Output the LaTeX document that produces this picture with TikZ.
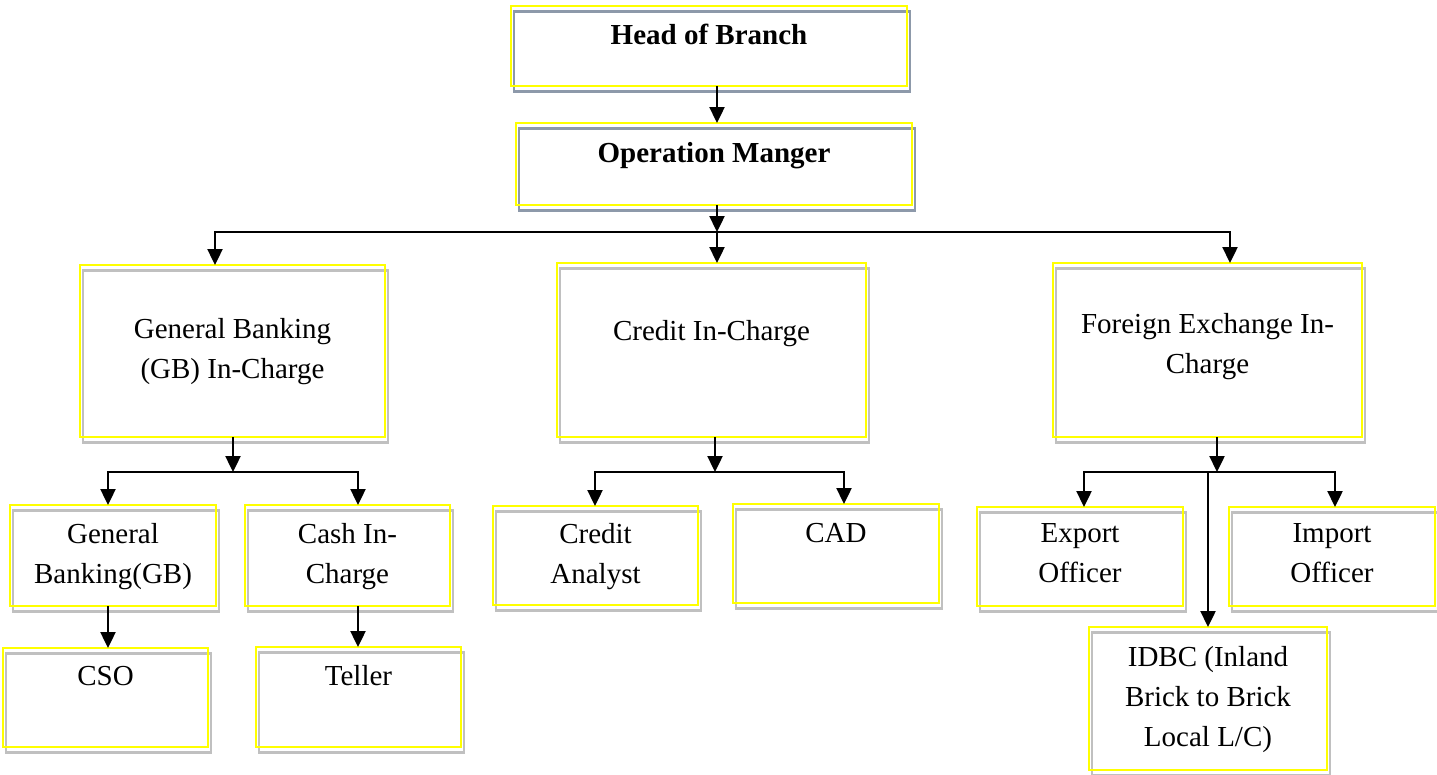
\documentclass[tikz,border=0pt]{standalone}
\usepackage{fontspec}
\setmainfont{Liberation Serif}
\usetikzlibrary{positioning,shadows,arrows.meta}
\definecolor{boxyellow}{RGB}{255,255,0}
\definecolor{slategrey}{RGB}{141,153,170}
\definecolor{shadegrey}{RGB}{192,192,192}

\begin{document}
\begin{tikzpicture}[x=1pt,y=-1pt,
	box/.style={rectangle,draw=boxyellow,line width=2.5pt,anchor=north west,inner sep=0pt,outer sep=0pt,
		drop shadow={shadow xshift=3pt,shadow yshift=-5.5pt,fill=none,draw=#1,opacity=1,line width=2.2pt}},
	box/.default=shadegrey,
	txt/.style={font=\fontsize{29}{40}\selectfont,align=center,inner sep=0pt},
	arr/.style={draw,line width=2.4pt,-{Triangle[length=16pt,width=15pt]}}
]
	\useasboundingbox (0,0) rectangle (1437,774);

	% top
	\node[box=slategrey,minimum width=396pt,minimum height=80pt] (head) at (511,6) {};
	\node[txt,below=18pt of head.north] (headtxt) {\bfseries Head of Branch};
	\node[box=slategrey,minimum width=396pt,minimum height=82pt] (opm) at (516,123) {};
	\node[txt,below=19pt of opm.north] (opmtxt) {\bfseries Operation Manger};

	% in-charges
	\node[box,minimum width=305pt,minimum height=172pt] (gbic) at (80,265) {};
	\node[txt,below=53pt of gbic.north] (gbictxt) {General Banking\\(GB) In-Charge};
	\node[box,minimum width=309pt,minimum height=174pt] (cric) at (557,263) {};
	\node[txt,below=57pt of cric.north] (crictxt) {Credit In-Charge};
	\node[box,minimum width=309pt,minimum height=174pt] (fxic) at (1053,263) {};
	\node[txt,below=50pt of fxic.north] (fxictxt) {Foreign Exchange In-\\Charge};

	% officers
	\node[box,minimum width=206pt,minimum height=101pt] (gbgb) at (10,505) {};
	\node[txt,below=18pt of gbgb.north] (gbgbtxt) {General\\Banking(GB)};
	\node[box,minimum width=205pt,minimum height=101pt] (cash) at (245,505) {};
	\node[txt,below=18pt of cash.north] (cashtxt) {Cash In-\\Charge};
	\node[box,minimum width=205pt,minimum height=99pt] (cso) at (3,648) {};
	\node[txt,below=18pt of cso.north] (csotxt) {CSO};
	\node[box,minimum width=205pt,minimum height=100pt] (teller) at (256,647) {};
	\node[txt,below=18pt of teller.north] (tellertxt) {Teller};
	\node[box,minimum width=205pt,minimum height=99pt] (cran) at (493,506) {};
	\node[txt,below=17pt of cran.north] (crantxt) {Credit\\Analyst};
	\node[box,minimum width=206pt,minimum height=99pt] (cad) at (733,504) {};
	\node[txt,below=19pt of cad.north] (cadtxt) {CAD};
	\node[box,minimum width=206pt,minimum height=99pt] (expo) at (977,507) {};
	\node[txt,below=16pt of expo.north] (expotxt) {Export\\Officer};
	\node[box,minimum width=206pt,minimum height=99pt] (impo) at (1229,507) {};
	\node[txt,below=16pt of impo.north] (impotxt) {Import\\Officer};
	\node[box,minimum width=238pt,minimum height=143pt] (idbc) at (1089,627) {};
	\node[txt,below=19pt of idbc.north] (idbctxt) {IDBC (Inland\\Brick to Brick\\Local L/C)};

	% bus points
	\coordinate (opbus) at (717,232);
	\coordinate (gbdrop) at (215,232);
	\coordinate (fxdrop) at (1230,232);
	\coordinate (gbbus) at (233,472);
	\coordinate (gbleft) at (108,472);
	\coordinate (gbright) at (358,472);
	\coordinate (crbus) at (715,472);
	\coordinate (crleft) at (595,472);
	\coordinate (crright) at (844,472);
	\coordinate (fxbus) at (1217,472);
	\coordinate (fxleft) at (1084,472);
	\coordinate (fxright) at (1335,472);

	% connectors
	\draw[arr] ([xshift=8pt]head.south) -- ([xshift=8pt]head.south |- opm.north);
	\draw[arr] (opm.south -| opbus) -- (opbus);
	\draw[arr] (opbus) -| (gbdrop |- gbic.north);
	\draw[arr] (opbus) -| (fxdrop |- fxic.north);
	\draw[arr] (opbus) -- (opbus |- cric.north);

	\draw[arr] (gbic.south -| gbbus) -- (gbbus);
	\draw[arr] (gbbus) -| (gbleft |- gbgb.north);
	\draw[arr] (gbbus) -| (gbright |- cash.north);
	\draw[arr] (gbgb.south -| gbleft) -- (gbleft |- cso.north);
	\draw[arr] (cash.south -| gbright) -- (gbright |- teller.north);

	\draw[arr] (cric.south -| crbus) -- (crbus);
	\draw[arr] (crbus) -| (crleft |- cran.north);
	\draw[arr] (crbus) -| (crright |- cad.north);

	\draw[arr] (fxic.south -| fxbus) -- (fxbus);
	\draw[arr] (fxbus) -| (fxleft |- expo.north);
	\draw[arr] (fxbus) -| (fxright |- impo.north);
	\draw[arr] (idbc.north |- fxbus) -- (idbc.north);
\end{tikzpicture}
\end{document}
